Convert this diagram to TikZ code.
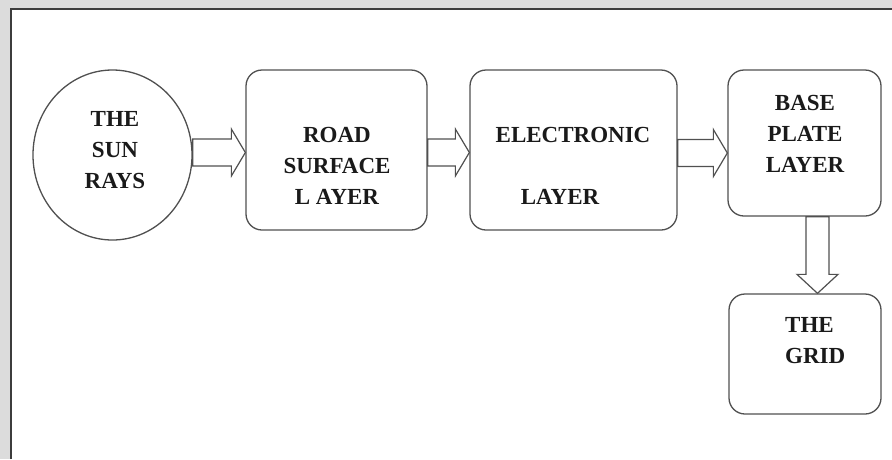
\documentclass[tikz,border=0pt]{standalone}
\usepackage{fontspec}
\setmainfont{Liberation Serif}
\usetikzlibrary{shapes.geometric,calc}
\definecolor{edge}{HTML}{505050}
\definecolor{ink}{HTML}{1A1A1A}
\definecolor{backdrop}{HTML}{DCDCDC}
\tikzset{
  shapebox/.style={draw=edge,line width=1.3pt,fill=white,rounded corners=16pt,inner sep=0pt},
  sunshape/.style={draw=edge,line width=1.3pt,fill=white,ellipse,inner sep=0pt},
  lbl/.style={text=ink,inner sep=0pt,align=center,font=\bfseries\fontsize{23}{31}\selectfont},
  blk/.style={draw=edge,line width=1.2pt,fill=white,line join=miter}
}
\newcommand\blockarrowH[2]{%
  \draw[blk] let \p1=(#1), \p2=(#2) in
  (\x1,\y1+13.5pt) -- (\x2-14pt,\y1+13.5pt) -- (\x2-14pt,\y1+23.5pt) -- (\x2,\y1)
  -- (\x2-14pt,\y1-23.5pt) -- (\x2-14pt,\y1-13.5pt) -- (\x1,\y1-13.5pt) -- cycle;}
\newcommand\blockarrowV[2]{%
  \draw[blk] let \p1=(#1), \p2=(#2) in
  (\x1-11.5pt,\y1) -- (\x1-11.5pt,\y2+19pt) -- (\x1-20.5pt,\y2+19pt) -- (\x1,\y2)
  -- (\x1+20.5pt,\y2+19pt) -- (\x1+11.5pt,\y2+19pt) -- (\x1+11.5pt,\y1) -- cycle;}
\begin{document}
\begin{tikzpicture}[x=1pt,y=-1pt]
\useasboundingbox (0,0) rectangle (892,459);
\fill[backdrop] (0,0) rectangle (892,459);
\fill[white] (11,9) rectangle (892,459);
\draw[line width=2pt,color=ink!85] (11,459) -- (11,9) -- (892,9);

\node[sunshape,minimum width=159pt,minimum height=170pt] (sun) at (112.5,155) {};
\node[shapebox,minimum width=181pt,minimum height=160pt] (road) at (336.5,150) {};
\node[shapebox,minimum width=207pt,minimum height=160pt] (elec) at (573.5,150) {};
\node[shapebox,minimum width=153pt,minimum height=146pt] (base) at (804.5,143) {};
\node[shapebox,minimum width=152pt,minimum height=120pt] (grid) at (805,354) {};

\node[lbl] (suntxt) at (115,150.5) {THE\\SUN\\RAYS};
\node[lbl] (roadtxt) at (337,165.5) {ROAD\\SURFACE\\L AYER};
\node[lbl,anchor=base] (electxta) at (573,142) {ELECTRONIC};
\node[lbl,anchor=base] (electxtb) at (560,204) {LAYER};
\node[lbl] (basetxt) at (805,134) {BASE\\PLATE\\LAYER};
\node[lbl,align=left,anchor=west] (gridtxt) at (785,341) {THE\\GRID};

\blockarrowH{$(sun.east)+(0,-2.5)$}{road.west}
\blockarrowH{$(road.east)+(0,2.5)$}{elec.west}
\blockarrowH{$(elec.east)+(0,3)$}{base.west}
\blockarrowV{$(base.south)+(13,0)$}{grid.north}
\end{tikzpicture}
\end{document}
